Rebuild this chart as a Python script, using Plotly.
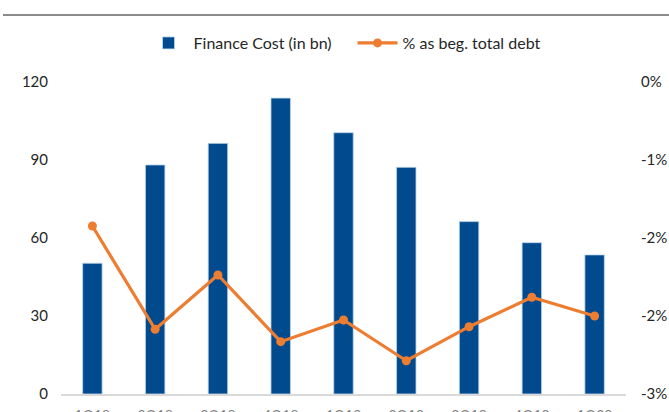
import plotly.graph_objects as go

categories = ["1Q18", "2Q18", "3Q18", "4Q18", "1Q19", "2Q19", "3Q19", "4Q19", "1Q20"]
finance_cost = [50.3, 88.1, 96.4, 113.8, 100.5, 87.2, 66.3, 58.2, 53.5]
pct_of_debt = [-0.01385, -0.02378, -0.01856, -0.02497, -0.02288, -0.02680, -0.02353, -0.02070, -0.02250]

left_ticks = [0, 30, 60, 90, 120]
right_tickvals = [-0.03, -0.0225, -0.015, -0.0075, 0.0]
right_ticktext = ["-3%", "-2%", "-2%", "-1%", "0%"]

BLUE = "#004A8D"
ORANGE = "#ED7D31"
TXT = "#262626"
FONT = "Lato"

fig = go.Figure()
fig.add_trace(go.Bar(
    x=categories, y=finance_cost, name="Finance Cost (in bn)",
    marker=dict(color=BLUE, line=dict(color="#BDD7EE", width=0.8)),
    width=0.31, yaxis="y",
))
fig.add_trace(go.Scatter(
    x=categories, y=pct_of_debt, name="% as beg. total debt",
    mode="lines+markers", yaxis="y2",
    line=dict(color=ORANGE, width=3.2),
    marker=dict(color=ORANGE, size=9),
))

fig.update_layout(
    width=669, height=412,
    margin=dict(l=61, r=43, t=82, b=18, autoexpand=False),
    paper_bgcolor="white", plot_bgcolor="white",
    font=dict(family=FONT, size=15, color=TXT),
    showlegend=True,
    legend=dict(orientation="h", x=0.516, xanchor="center", y=1.125, yanchor="middle",
                font=dict(size=16, color=TXT), itemwidth=40, traceorder="normal",
                entrywidth=154, entrywidthmode="pixels",
                bgcolor="rgba(0,0,0,0)"),
    xaxis=dict(showgrid=False, showline=True, linecolor="#D9D9D9", linewidth=1.5,
               ticks="outside", ticklen=7, tickcolor="rgba(0,0,0,0)",
               tickfont=dict(size=14, color="#7F7F7F"), range=[-0.5, 8.5]),
    yaxis=dict(range=[0, 120], tickvals=left_ticks, showgrid=False, zeroline=False,
               ticks="outside", ticklen=9, tickcolor="rgba(0,0,0,0)",
               tickfont=dict(size=15, color=TXT)),
    yaxis2=dict(range=[-0.03, 0], overlaying="y", side="right", showgrid=False,
                zeroline=False, tickvals=right_tickvals, ticktext=right_ticktext,
                ticks="outside", ticklen=11, tickcolor="rgba(0,0,0,0)",
                tickfont=dict(size=15, color=TXT)),
    shapes=[dict(type="line", xref="paper", yref="paper",
                 x0=(3 - 61) / 565, x1=(669 - 61) / 565,
                 y0=(394 - 15) / 312, y1=(394 - 15) / 312,
                 line=dict(color="#8C8C8C", width=2))],
)

fig.write_html("out.html")
